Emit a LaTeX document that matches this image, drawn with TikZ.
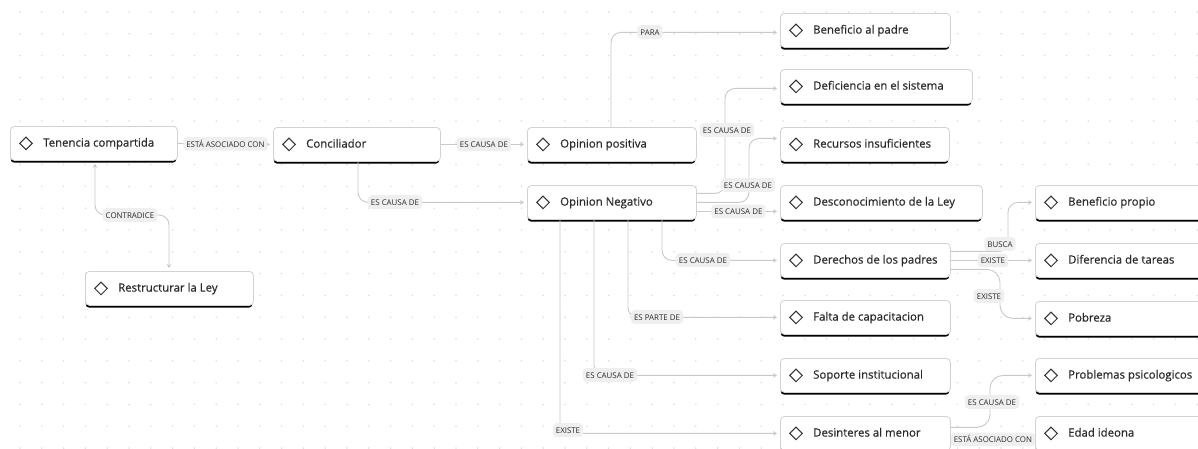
\documentclass[tikz,border=0pt]{standalone}
\usepackage{fontspec}
\setmainfont{Open Sans}
\newfontfamily\boxfont{Open Sans}[FakeBold=0.45]
\usetikzlibrary{arrows.meta,calc}
\definecolor{linec}{HTML}{C9C9C9}
\definecolor{dotc}{HTML}{DEDEDE}
\definecolor{borderc}{HTML}{D2D2D2}
\definecolor{lblbg}{HTML}{EFEFEF}
\definecolor{lbltext}{HTML}{2A2A2A}
\definecolor{boxtext}{HTML}{2A2A2A}
\definecolor{diamc}{HTML}{333333}
\tikzset{
  boxs/.style={draw=borderc, line width=0.8pt, fill=white, rounded corners=4pt, inner sep=0pt},
  btext/.style={text=boxtext, font=\boxfont\fontsize{11.4}{13}\selectfont, inner sep=0pt, text height=1.5ex, text depth=0.3ex},
  diam/.style={draw=diamc, line width=1pt, line join=miter},
  lbl/.style={fill=lblbg, rounded corners=3.5pt, inner xsep=3pt, inner ysep=2.5pt, text=lbltext,
    font=\fontsize{7.9}{9}\selectfont, text height=1.4ex, text depth=0.2ex},
  conn/.style={draw=linec, line width=0.9pt, rounded corners=10pt,
    -{Stealth[length=4pt,width=4.5pt]}, shorten >=3pt},
}
\newcommand\cbox[5]{%
  \fill[black, rounded corners=3pt] (#2+0.8,#3+6) rectangle (#2+#4-0.8,#3+36.5);
  \node[boxs, anchor=north west, minimum width=#4pt, minimum height=34pt] (#1) at (#2,#3) {};
  \draw[diam] ([xshift=16pt]#1.west) +(-6.3pt,0) -- +(0,6.3pt) -- +(6.3pt,0) -- +(0,-6.3pt) -- cycle;
  \node[btext, anchor=west] (#1t) at ([xshift=33pt]#1.west) {#5};
}
\begin{document}
\begin{tikzpicture}[x=1pt,y=-1pt]
\useasboundingbox (0,0) rectangle (1198,448);
\clip (0,0) rectangle (1198,448);
\fill[white] (0,0) rectangle (1198,448);
\foreach \i in {0,...,54}{\foreach \j in {0,...,20}{\fill[dotc] (20+\i*21.8,12+\j*21.8) circle (0.9pt);}}

\cbox{ten}{10}{126}{167}{Tenencia compartida}
\cbox{con}{273}{127}{167}{Conciliador}
\cbox{res}{85}{271}{168}{Restructurar la Ley}
\cbox{opos}{527}{127}{169}{Opinion positiva}
\cbox{oneg}{527}{185}{169}{Opinion Negativo}
\cbox{ben}{780}{13}{170}{Beneficio al padre}
\cbox{def}{780}{69}{192}{Deficiencia en el sistema}
\cbox{rec}{780}{127}{169}{Recursos insuficientes}
\cbox{desc}{780}{185}{202}{Desconocimiento de la Ley}
\cbox{der}{780}{243}{170}{Derechos de los padres}
\cbox{fal}{780}{300}{170}{Falta de capacitacion}
\cbox{sop}{780}{358}{170}{Soporte institucional}
\cbox{desi}{780}{416}{170}{Desinteres al menor}
\cbox{benp}{1035}{185}{180}{Beneficio propio}
\cbox{dif}{1035}{243}{180}{Diferencia de tareas}
\cbox{pob}{1035}{301}{180}{Pobreza}
\cbox{prob}{1035}{358}{180}{Problemas psicologicos}
\cbox{edad}{1035}{416}{180}{Edad ideona}

% connectors
\draw[conn] (ten.east) -- (con.west) node[lbl,midway] (l1) {ESTÁ ASOCIADO CON};
\draw[conn, {Stealth[length=4pt,width=4.5pt]}-{Stealth[length=4pt,width=4.5pt]}, shorten <=3pt]
  ([xshift=85pt]ten.south west) |- (130,215) -| ([xshift=84pt]res.north west);
\node[lbl] (l2) at (130,215) {CONTRADICE};
\draw[conn] (con.east) -- (opos.west) node[lbl,midway] (l3) {ES CAUSA DE};
\draw[conn] ([xshift=85pt]con.south west) |- (oneg.west);
\node[lbl] (l4) at (395,202) {ES CAUSA DE};
\draw[conn] ([xshift=84pt]opos.north west) |- ([yshift=-2pt]ben.west);
\node[lbl] (l5) at (650,32) {PARA};
\draw[conn] ([yshift=9pt]oneg.east) -| ([xshift=-55pt,yshift=-2pt]def.west) -- ([yshift=-2pt]def.west);
\node[lbl] (l6) at (727,130) {ES CAUSA DE};
\draw[conn] (oneg.east) -| ([xshift=-31pt,yshift=6pt]rec.west) -- ([yshift=6pt]rec.west);
\node[lbl] (l7) at (748,185) {ES CAUSA DE};
\draw[conn] ([yshift=-9pt]oneg.east) -- ([yshift=-9pt]desc.west) node[lbl,midway] (l8) {ES CAUSA DE};
\draw[conn] ([xshift=135pt]oneg.south west) |- (der.west);
\node[lbl] (l9) at (703,260) {ES CAUSA DE};
\draw[conn] ([xshift=101pt]oneg.south west) |- (fal.west);
\node[lbl] (l10) at (657,317) {ES PARTE DE};
\draw[conn] ([xshift=67pt]oneg.south west) |- (sop.west);
\node[lbl] (l11) at (610,375) {ES CAUSA DE};
\draw[conn] ([xshift=33pt]oneg.south west) |- (desi.west);
\node[lbl] (l12) at (568,430) {EXISTE};
\draw[conn] ([yshift=9pt]der.east) -| ([xshift=-27pt]benp.west) -- (benp.west);
\node[lbl] (l13) at (1000,244) {BUSCA};
\draw[conn] (der.east) -- (dif.west) node[lbl,midway] (l14) {EXISTE};
\draw[conn, rounded corners=13pt] ([yshift=-9pt]der.east) -| ([xshift=-35pt]pob.west) -- (pob.west);
\node[lbl] (l15) at (989,296) {EXISTE};
\draw[conn, rounded corners=13pt] ([yshift=6pt]desi.east) -| ([xshift=-45pt]prob.west) -- (prob.west);
\node[lbl] (l16) at (992,402) {ES CAUSA DE};
\draw[conn] ([yshift=-6pt]desi.east) -- ([yshift=-6pt]edad.west) node[lbl,midway] (l17) {ESTÁ ASOCIADO CON};
\end{tikzpicture}
\end{document}
